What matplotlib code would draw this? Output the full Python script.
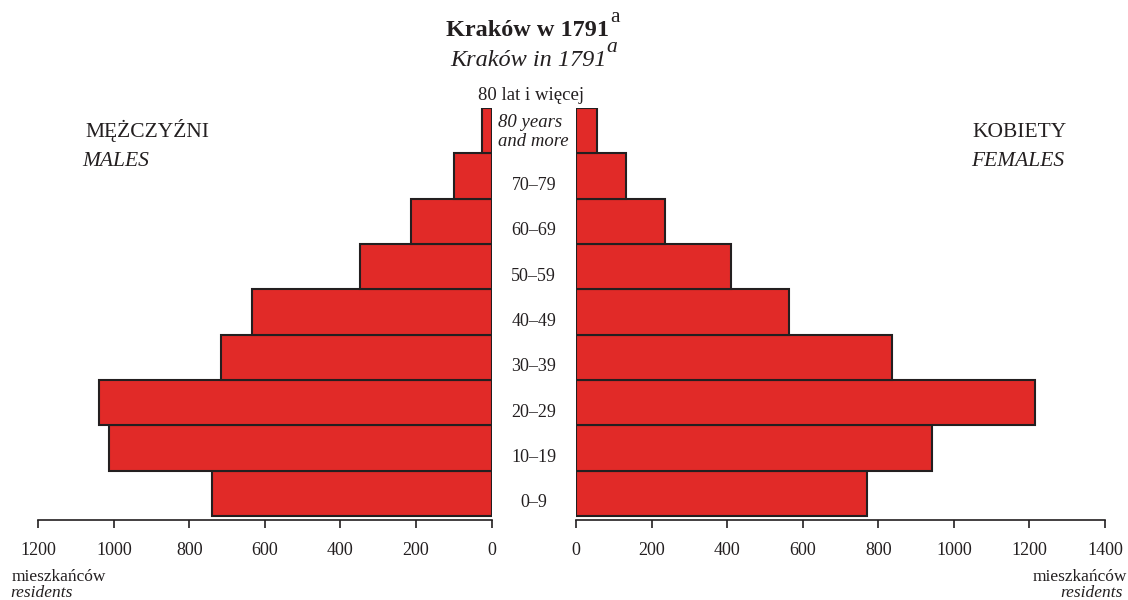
import matplotlib
matplotlib.use("Agg")
import matplotlib.pyplot as plt
import numpy as np

# ---- data ----
age_groups = ["0–9", "10–19", "20–29", "30–39", "40–49", "50–59", "60–69", "70–79", "80 lat i więcej"]
males = [741, 1013, 1040, 717, 635, 349, 212, 99, 24]
females = [769, 941, 1216, 835, 563, 411, 236, 132, 55]
left_ticks = [0, 200, 400, 600, 800, 1000, 1200]
right_ticks = [0, 200, 400, 600, 800, 1000, 1200, 1400]

W, H = 1128, 600
plt.rcParams['font.family'] = ['Liberation Serif', 'DejaVu Serif']
TXT = '#231F20'
RED = '#E12A28'
EDGE = '#231F20'

fig = plt.figure(figsize=(W / 100, H / 100), dpi=100)

def fx(x):
    return x / W

def fy(y):
    return 1 - y / H

# axes geometry in pixels
top_px, spine_px = 108, 520
row_h = (516 - 108) / 9.0
ybot = -0.5 - (spine_px - 516) / row_h

axL = fig.add_axes([fx(38.3), fy(spine_px), (491.5 - 38.3) / W, (spine_px - top_px) / H])
axR = fig.add_axes([fx(576), fy(spine_px), (1105 - 576) / W, (spine_px - top_px) / H])

y = np.arange(len(age_groups))
axL.barh(y, males, height=1.0, color=RED, edgecolor=EDGE, linewidth=1.5)
axR.barh(y, females, height=1.0, color=RED, edgecolor=EDGE, linewidth=1.5)

axL.set_xlim(1200, 0)
axR.set_xlim(0, 1400)
for ax, ticks in ((axL, left_ticks), (axR, right_ticks)):
    ax.set_ylim(ybot, 8.5)
    ax.set_yticks([])
    for s in ('top', 'left', 'right'):
        ax.spines[s].set_visible(False)
    ax.spines['bottom'].set_linewidth(1.2)
    ax.spines['bottom'].set_color(EDGE)
    ax.set_xticks(ticks)
    ax.set_xticklabels([str(t) for t in ticks])
    ax.tick_params(axis='x', direction='out', length=5.5, width=1.2, color=EDGE,
                   labelsize=13, labelcolor=TXT, pad=10)
    ax.patch.set_alpha(0)

# age labels in the middle
cx = (491.5 + 576) / 2
for i, lab in enumerate(age_groups[:-1]):
    ybase = 516 - row_h * (i + 0.5) + 14
    fig.text(fx(cx), fy(ybase), lab, ha='center', va='baseline', fontsize=13, color=TXT)
fig.text(fx(cx - 3), fy(100), age_groups[-1], ha='center', va='baseline', fontsize=13.5, color=TXT)
fig.text(fx(498), fy(127), "80 years", ha='left', va='baseline', fontsize=13.5,
         style='italic', color=TXT)
fig.text(fx(498), fy(146), "and more", ha='left', va='baseline', fontsize=13.5,
         style='italic', color=TXT)

# side labels
fig.text(fx(85), fy(137), "MĘŻCZYŹNI", ha='left', va='baseline', fontsize=15.5, color=TXT)
fig.text(fx(82), fy(166), "MALES", ha='left', va='baseline', fontsize=15.5, style='italic', color=TXT)
fig.text(fx(1067), fy(137), "KOBIETY", ha='right', va='baseline', fontsize=15.5, color=TXT)
fig.text(fx(1064), fy(166), "FEMALES", ha='right', va='baseline', fontsize=15.5, style='italic', color=TXT)

# unit labels
fig.text(fx(12), fy(581), "mieszkańców", ha='left', va='baseline', fontsize=12.5, color=TXT)
fig.text(fx(10), fy(597), "residents", ha='left', va='baseline', fontsize=12.5, style='italic', color=TXT)
fig.text(fx(1127), fy(581), "mieszkańców", ha='right', va='baseline', fontsize=12.5, color=TXT)
fig.text(fx(1123), fy(597), "residents", ha='right', va='baseline', fontsize=12.5, style='italic', color=TXT)

# title
t1 = fig.text(fx(528), fy(36), "Kraków w 1791", ha='center', va='baseline', fontsize=17.5,
              fontweight='bold', color=TXT)
t2 = fig.text(fx(528), fy(66), "Kraków in 1791", ha='center', va='baseline', fontsize=17.5,
              style='italic', color=TXT)
renderer = fig.canvas.get_renderer()
b1 = t1.get_window_extent(renderer)
b2 = t2.get_window_extent(renderer)
fig.text((b1.x1 + 1) / W, fy(22), "a", ha='left', va='baseline', fontsize=15.5, color=TXT)
fig.text((b2.x1 + 0) / W, fy(52), "a", ha='left', va='baseline', fontsize=15.5,
         style='italic', color=TXT)

fig.savefig("out.png", dpi=100)
